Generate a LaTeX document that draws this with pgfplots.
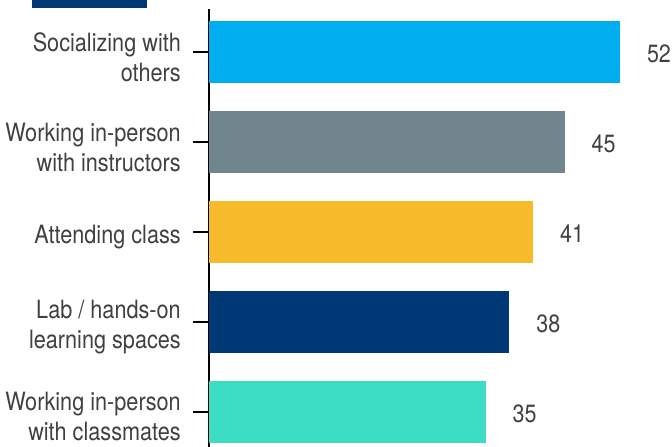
\documentclass[border=0pt]{standalone}
\usepackage{fontspec}
\setmainfont{TeX Gyre Heros}[FakeStretch=0.86]
\usepackage{pgfplots}
\pgfplotsset{compat=1.18}
\definecolor{cA}{HTML}{00AEEF}
\definecolor{cB}{HTML}{71858F}
\definecolor{cC}{HTML}{F7BA2B}
\definecolor{cD}{HTML}{003876}
\definecolor{cE}{HTML}{3DDCC4}
\definecolor{txt}{HTML}{404040}
\begin{document}
\begin{tikzpicture}
\begin{axis}[
  at={(209pt,-8pt)}, anchor=south west,
  scale only axis, width=458.2pt, height=446pt,
  xbar, bar width=62pt, bar shift=0pt,
  xmin=0, xmax=58,
  y dir=reverse, ymin=-0.478, ymax=4.478,
  axis x line=none, axis y line*=left,
  y axis line style={line width=1.5pt, black, -},
  xtick=\empty,
  ytick={0,1,2,3,4},
  yticklabels={{Socializing with\\others},{Working in-person\\with instructors},{Attending class},{Lab / hands-on\\learning spaces},{Working in-person\\with classmates}},
  tick align=outside, major tick length=16pt,
  ytick style={line width=1.5pt, black},
  yticklabel style={font=\fontsize{25.2}{30}\selectfont, text=txt, align=right, inner sep=0pt, xshift=-12pt, yshift=-5pt},
  /pgf/number format/assume math mode=true,
  nodes near coords,
  every node near coord/.append style={font=\fontsize{25}{30}\selectfont, text=txt, anchor=west, inner sep=0pt, xshift=27pt, yshift=-2pt},
  clip=false,
]
\addplot[fill=cA, draw=none] coordinates {(52,0)};
\addplot[fill=cB, draw=none] coordinates {(45,1)};
\addplot[fill=cC, draw=none] coordinates {(41,2)};
\addplot[fill=cD, draw=none] coordinates {(38,3)};
\addplot[fill=cE, draw=none] coordinates {(35,4)};
\end{axis}
\fill[cD] (32pt,439pt) rectangle (147pt,460pt);
\pgfresetboundingbox
\path[use as bounding box] (0,0) rectangle (672pt,447pt);
\end{tikzpicture}
\end{document}
